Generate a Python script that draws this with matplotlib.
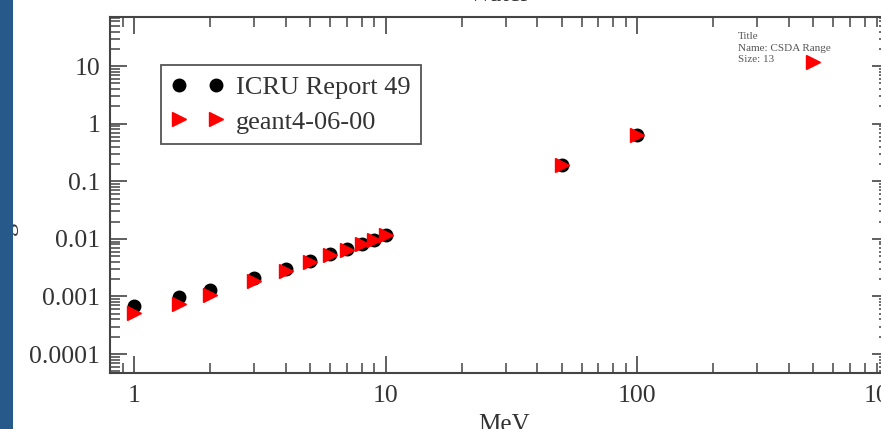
import matplotlib
matplotlib.use('Agg')
import matplotlib.pyplot as plt
from matplotlib.lines import Line2D
from matplotlib.patches import Rectangle
from matplotlib.ticker import LogLocator, NullFormatter, FixedLocator, FixedFormatter

# CSDA range in water
energy = [1, 1.5, 2, 3, 4, 5, 6, 7, 8, 9, 10, 50, 100]
icru_range = [6.7e-4, 9.6e-4, 1.27e-3, 2.08e-3, 3.0e-3, 4.16e-3, 5.4e-3,
              6.6e-3, 8.1e-3, 9.6e-3, 1.17e-2, 0.195, 0.645]
geant4_range = [5.15e-4, 7.5e-4, 1.07e-3, 1.89e-3, 2.79e-3, 4.0e-3, 5.2e-3,
                6.5e-3, 8.0e-3, 9.5e-3, 1.15e-2, 0.195, 0.645]

x_ticks = [1, 10, 100, 1000]
x_tick_labels = ['1', '10', '100', '1000']
y_ticks = [1e-4, 1e-3, 1e-2, 1e-1, 1, 10]
y_tick_labels = ['0.0001', '0.001', '0.01', '0.1', '1', '10']

plt.rcParams['font.family'] = ['Liberation Serif', 'DejaVu Serif']

W, H = 881, 429
fig = plt.figure(figsize=(W / 100, H / 100), dpi=100)
fig.patch.set_facecolor('white')

# axes box in pixels: left 110, right 889, top 17, bottom 373
ax = fig.add_axes([110 / W, (H - 373) / H, 779 / W, 356 / H])

ax.plot(energy, icru_range, linestyle='none', marker='o', markersize=9,
        color='black', label='ICRU Report 49')
ax.plot(energy, geant4_range, linestyle='none', marker='>', markersize=9.5,
        color='red', label='geant4-06-00')

ax.set_xscale('log')
ax.set_yscale('log')
ax.set_xlim(0.8, 1000)
ax.set_ylim(10 ** -4.33, 10 ** 1.854)

ax.xaxis.set_major_locator(FixedLocator(x_ticks))
ax.xaxis.set_major_formatter(FixedFormatter(x_tick_labels))
ax.yaxis.set_major_locator(FixedLocator(y_ticks))
ax.yaxis.set_major_formatter(FixedFormatter(y_tick_labels))
ax.xaxis.set_minor_locator(LogLocator(base=10, subs=range(2, 10), numticks=20))
ax.yaxis.set_minor_locator(LogLocator(base=10, subs=range(2, 10), numticks=20))
ax.xaxis.set_minor_formatter(NullFormatter())
ax.yaxis.set_minor_formatter(NullFormatter())

ax.tick_params(which='both', direction='in', top=True, right=True,
               color='#444444', labelsize=18.5, labelcolor='#333333')
ax.tick_params(which='major', length=12.5, width=1.2)
ax.tick_params(which='minor', length=7, width=1.1)
ax.tick_params(axis='x', which='major', pad=9)
ax.tick_params(axis='y', which='major', pad=7)
for s in ax.spines.values():
    s.set_linewidth(1.5)
    s.set_color('#444444')

ax.set_title('Water', fontsize=19, pad=11.5, color='#333333')
ax.set_xlabel('MeV', fontsize=18, color='#333333', va='top')
ax.xaxis.set_label_coords(0.506, -0.115)
ax.set_ylabel('g/cm2', fontsize=19, color='#333333')
ax.yaxis.set_label_coords(-0.118, 0.48)

leg = ax.legend(loc='upper left', bbox_to_anchor=(161 / W, 1 - 65 / H),
                bbox_transform=fig.transFigure, borderaxespad=0,
                numpoints=2, handlelength=2.0, handletextpad=0.45,
                borderpad=0.4, labelspacing=0.42, fontsize=19,
                fancybox=False, framealpha=1, edgecolor='#555555')
leg.get_frame().set_linewidth(1.3)
for t in leg.get_texts():
    t.set_color('#333333')

# small leftover note in the corner
ax.text(0.806, 0.957, 'Title\nName: CSDA Range\nSize: 13', transform=ax.transAxes,
        fontsize=8, color='#555555', va='top', ha='left', linespacing=1.35)
note_marker = Line2D([], [], linestyle='none', marker='>', markersize=10, color='red')
note = fig.legend(handles=[note_marker], labels=[''], loc='center',
                  bbox_to_anchor=(813 / W, 1 - 63 / H), frameon=False,
                  handlelength=1.0, handletextpad=0, borderpad=0, fontsize=8)

# frame of the plot below, just visible at the bottom edge
ax2 = fig.add_axes([110 / W, -0.3, 779 / W, 0.3 - 1.5 / H])
ax2.set_xticks([])
ax2.set_yticks([])
for name, s in ax2.spines.items():
    s.set_visible(name == 'top')
ax2.spines['top'].set_linewidth(1.5)
ax2.spines['top'].set_color('#444444')

# blue slide border on the left
fig.patches.append(Rectangle((0, 0), 13 / W, 1, transform=fig.transFigure,
                             facecolor='#275a8a', edgecolor='none', zorder=10))

plt.savefig('out.png', dpi=100)
